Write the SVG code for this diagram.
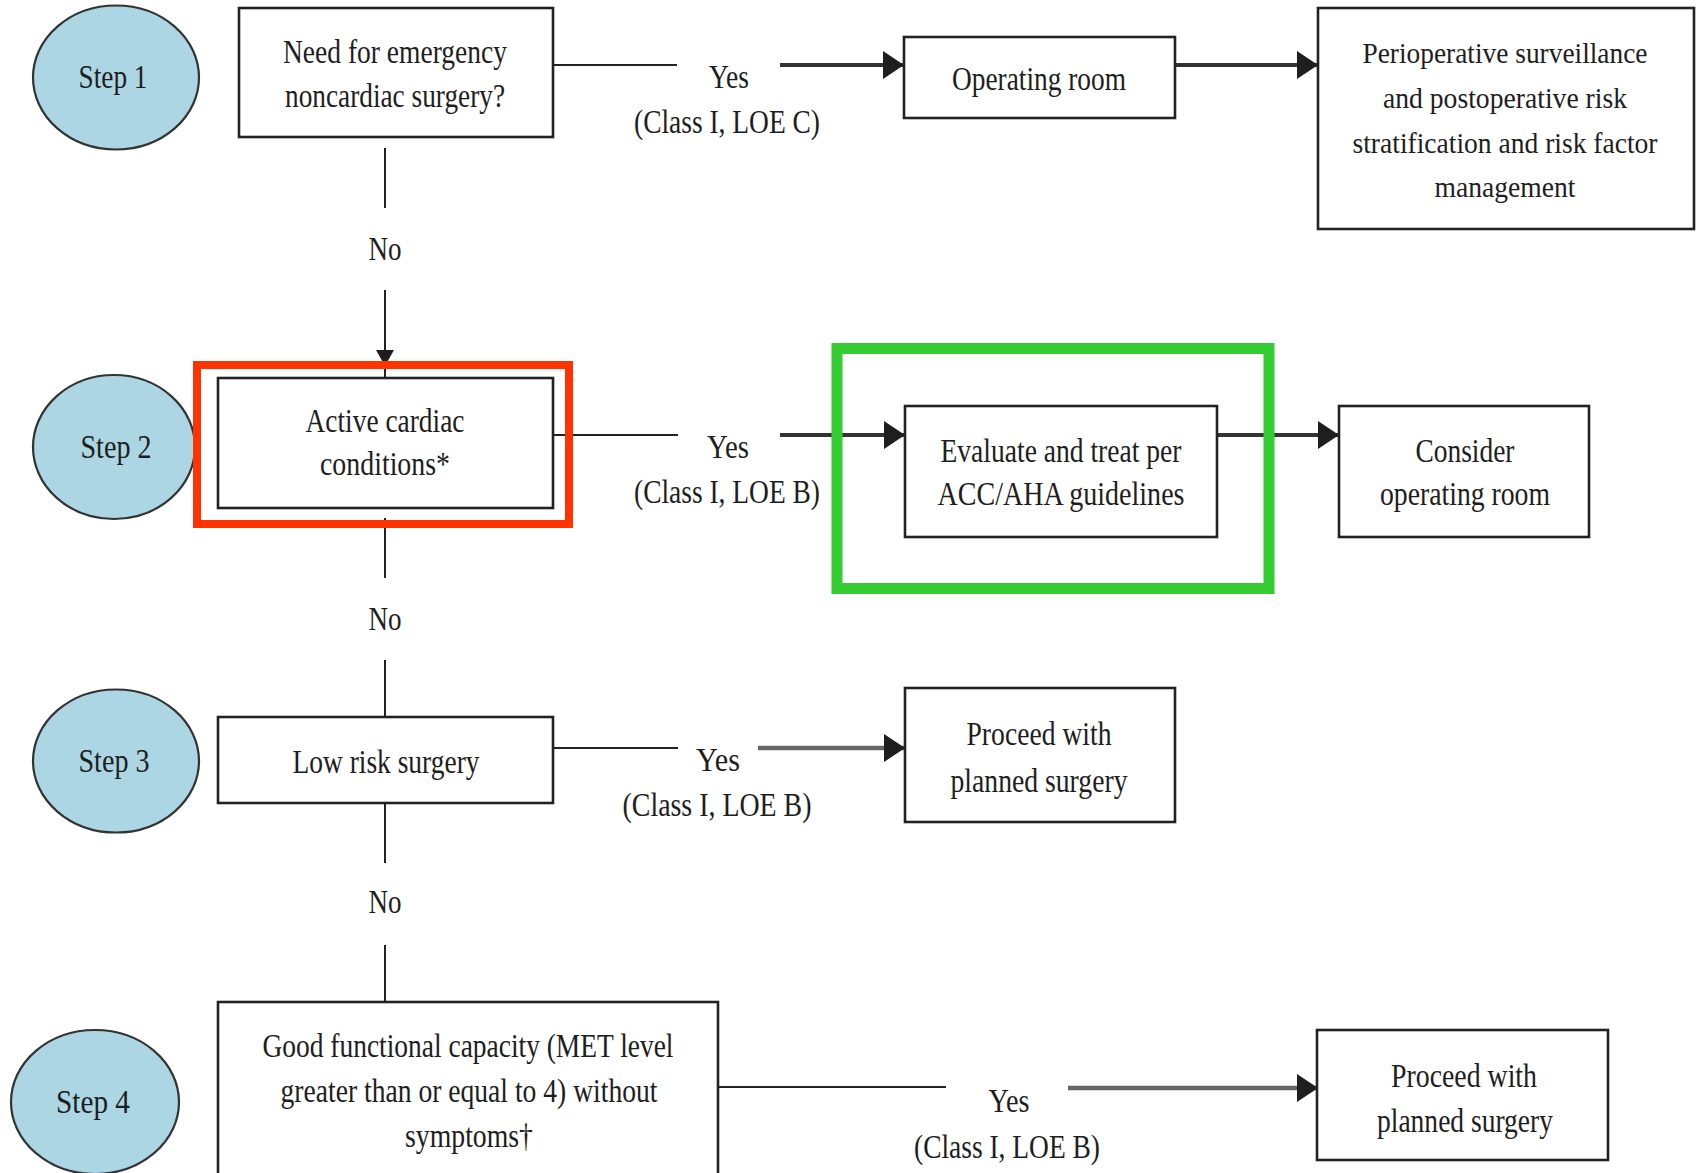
<svg xmlns="http://www.w3.org/2000/svg" width="1696" height="1173" viewBox="0 0 1696 1173">
<style>
.bg{fill:#ffffff}
.step ellipse{fill:#acd6e3;stroke:#333;stroke-width:2.2}
.box rect{fill:#ffffff;stroke:#222;stroke-width:2.6}
text{font-family:"Liberation Serif","Times New Roman",serif;font-size:33px;fill:#1e1e1e;text-anchor:middle}
#perioperative text{font-size:30px}
.thin{stroke:#222;stroke-width:2;fill:none}
.thick{stroke:#333;stroke-width:4;fill:none}
.gray{stroke:#666;stroke-width:4.5;fill:none}
</style>
<defs>
<marker id="ah" markerUnits="userSpaceOnUse" markerWidth="21" markerHeight="28" refX="21" refY="14" orient="auto">
<path d="M0,0 L21,14 L0,28 z" fill="#1e1e1e"/>
</marker>
<marker id="ahs" markerUnits="userSpaceOnUse" markerWidth="16" markerHeight="18" refX="16" refY="9" orient="auto">
<path d="M0,0 L16,9 L0,18 z" fill="#1e1e1e"/>
</marker>
</defs>
<rect class="bg" x="0" y="0" width="1696" height="1173"/>

<g id="connectors">
<line class="thin" x1="553" y1="65" x2="677" y2="65"/>
<line class="thick" x1="780" y1="65" x2="904" y2="65" marker-end="url(#ah)"/>
<text x="729" y="88" textLength="40" lengthAdjust="spacingAndGlyphs">Yes</text>
<text x="727" y="133" textLength="186" lengthAdjust="spacingAndGlyphs">(Class I, LOE C)</text>
<line class="thick" x1="1175" y1="65" x2="1318" y2="65" marker-end="url(#ah)"/>
<line class="thin" x1="385" y1="148" x2="385" y2="208"/>
<text x="385" y="260" textLength="33" lengthAdjust="spacingAndGlyphs">No</text>
<line class="thin" x1="385" y1="290" x2="385" y2="366" marker-end="url(#ahs)"/>
<line class="thin" x1="385" y1="362" x2="385" y2="378"/>
<line class="thin" x1="553" y1="435" x2="678" y2="435"/>
<line class="thick" x1="780" y1="435" x2="905" y2="435" marker-end="url(#ah)"/>
<text x="728" y="458" textLength="42" lengthAdjust="spacingAndGlyphs">Yes</text>
<text x="727" y="503" textLength="186" lengthAdjust="spacingAndGlyphs">(Class I, LOE B)</text>
<line class="thick" x1="1217" y1="435" x2="1339" y2="435" marker-end="url(#ah)"/>
<line class="thin" x1="385" y1="518" x2="385" y2="578"/>
<text x="385" y="630" textLength="33" lengthAdjust="spacingAndGlyphs">No</text>
<line class="thin" x1="385" y1="660" x2="385" y2="717"/>
<line class="thin" x1="553" y1="748" x2="678" y2="748"/>
<line class="gray" x1="758" y1="748" x2="905" y2="748" marker-end="url(#ah)"/>
<text x="718" y="771" textLength="44" lengthAdjust="spacingAndGlyphs">Yes</text>
<text x="717" y="816" textLength="189" lengthAdjust="spacingAndGlyphs">(Class I, LOE B)</text>
<line class="thin" x1="385" y1="803" x2="385" y2="863"/>
<text x="385" y="913" textLength="33" lengthAdjust="spacingAndGlyphs">No</text>
<line class="thin" x1="385" y1="945" x2="385" y2="1002"/>
<line class="thin" x1="718" y1="1087" x2="946" y2="1087"/>
<line class="gray" x1="1068" y1="1088" x2="1318" y2="1088" marker-end="url(#ah)"/>
<text x="1009" y="1112" textLength="41" lengthAdjust="spacingAndGlyphs">Yes</text>
<text x="1007" y="1158" textLength="186" lengthAdjust="spacingAndGlyphs">(Class I, LOE B)</text>
</g>

<g id="step1" class="step">
<ellipse cx="116" cy="77.5" rx="83" ry="72"/>
<text x="113" y="88" textLength="69" lengthAdjust="spacingAndGlyphs">Step 1</text>
</g>
<g id="step2" class="step">
<ellipse cx="114" cy="447" rx="81" ry="72"/>
<text x="116" y="458" textLength="71" lengthAdjust="spacingAndGlyphs">Step 2</text>
</g>
<g id="step3" class="step">
<ellipse cx="116" cy="761" rx="83" ry="71.5"/>
<text x="114" y="772" textLength="71" lengthAdjust="spacingAndGlyphs">Step 3</text>
</g>
<g id="step4" class="step">
<ellipse cx="95" cy="1102" rx="84" ry="72"/>
<text x="93" y="1113" textLength="74" lengthAdjust="spacingAndGlyphs">Step 4</text>
</g>

<g id="emergency" class="box">
<rect x="239" y="8" width="314" height="129"/>
<text x="395" y="63" textLength="224" lengthAdjust="spacingAndGlyphs">Need for emergency</text>
<text x="395" y="107" textLength="220" lengthAdjust="spacingAndGlyphs">noncardiac surgery?</text>
</g>
<g id="operating-room" class="box">
<rect x="904" y="37" width="271" height="81"/>
<text x="1039" y="90" textLength="174" lengthAdjust="spacingAndGlyphs">Operating room</text>
</g>
<g id="perioperative" class="box">
<rect x="1318" y="8" width="376" height="221"/>
<text x="1505" y="63" textLength="285" lengthAdjust="spacingAndGlyphs">Perioperative surveillance</text>
<text x="1505" y="108" textLength="244" lengthAdjust="spacingAndGlyphs">and postoperative risk</text>
<text x="1505" y="153" textLength="305" lengthAdjust="spacingAndGlyphs">stratification and risk factor</text>
<text x="1505" y="197" textLength="141" lengthAdjust="spacingAndGlyphs">management</text>
</g>
<g id="active-cardiac" class="box">
<rect x="218" y="378" width="335" height="130"/>
<text x="385" y="432" textLength="159" lengthAdjust="spacingAndGlyphs">Active cardiac</text>
<text x="385" y="475" textLength="130" lengthAdjust="spacingAndGlyphs">conditions*</text>
</g>
<g id="red-highlight">
<rect x="197" y="365" width="372" height="159" fill="none" stroke="#ff3300" stroke-width="8"/>
</g>
<g id="evaluate" class="box">
<rect x="905" y="406" width="312" height="131"/>
<text x="1061" y="462" textLength="241" lengthAdjust="spacingAndGlyphs">Evaluate and treat per</text>
<text x="1061" y="505" textLength="247" lengthAdjust="spacingAndGlyphs">ACC/AHA guidelines</text>
</g>
<g id="green-highlight">
<rect x="837" y="348.5" width="432" height="240" fill="none" stroke="#33cc33" stroke-width="11"/>
</g>
<g id="consider" class="box">
<rect x="1339" y="406" width="250" height="131"/>
<text x="1465" y="462" textLength="99" lengthAdjust="spacingAndGlyphs">Consider</text>
<text x="1465" y="505" textLength="170" lengthAdjust="spacingAndGlyphs">operating room</text>
</g>
<g id="low-risk" class="box">
<rect x="218" y="717" width="335" height="86"/>
<text x="386" y="773" textLength="187" lengthAdjust="spacingAndGlyphs">Low risk surgery</text>
</g>
<g id="proceed1" class="box">
<rect x="905" y="688" width="270" height="134"/>
<text x="1039" y="745" textLength="145" lengthAdjust="spacingAndGlyphs">Proceed with</text>
<text x="1039" y="792" textLength="177" lengthAdjust="spacingAndGlyphs">planned surgery</text>
</g>
<g id="functional" class="box">
<rect x="218" y="1002" width="500" height="185"/>
<text x="468" y="1057" textLength="411" lengthAdjust="spacingAndGlyphs">Good functional capacity (MET level</text>
<text x="469" y="1102" textLength="377" lengthAdjust="spacingAndGlyphs">greater than or equal to 4) without</text>
<text x="469" y="1147" textLength="128" lengthAdjust="spacingAndGlyphs">symptoms†</text>
</g>
<g id="proceed2" class="box">
<rect x="1317" y="1030" width="291" height="130"/>
<text x="1464" y="1087" textLength="146" lengthAdjust="spacingAndGlyphs">Proceed with</text>
<text x="1465" y="1132" textLength="176" lengthAdjust="spacingAndGlyphs">planned surgery</text>
</g>
</svg>
